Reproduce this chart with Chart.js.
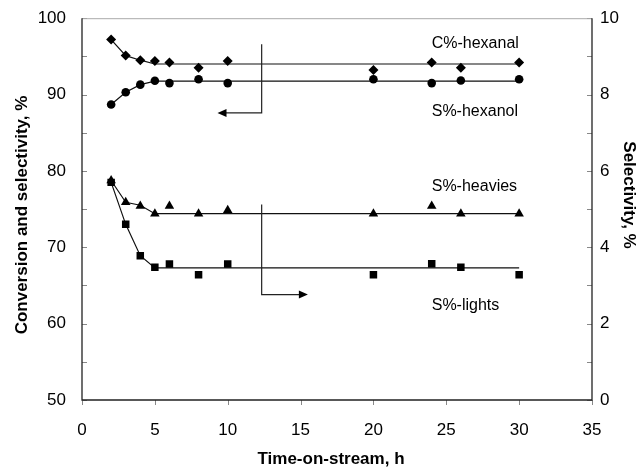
<!DOCTYPE html>
<html>
<head>
<meta charset="utf-8">
<script src="https://cdn.jsdelivr.net/npm/chart.js@4/dist/chart.umd.min.js"></script>
<style>
  html, body { margin: 0; padding: 0; background: #fff; }
  #wrap { width: 637px; height: 468px; }
</style>
</head>
<body>
<div id="wrap"><canvas id="tosChart"></canvas></div>
<script>
// time-on-stream, h
const hours = [2, 3, 4, 5, 6, 8, 10, 20, 24, 26, 30];

// left axis (%)
const convHexanal = [97.2, 95.1, 94.5, 94.4, 94.2, 93.5, 94.4, 93.2, 94.2, 93.5, 94.2];
const selHexanol  = [88.7, 90.3, 91.3, 91.8, 91.5, 92.0, 91.5, 92.0, 91.5, 91.85, 92.0];

// right axis (selectivity, %)
const selHeavies = [5.75, 5.18, 5.08, 4.88, 5.08, 4.88, 4.97, 4.88, 5.08, 4.88, 4.88];
const selLights  = [5.7, 4.6, 3.78, 3.48, 3.56, 3.28, 3.56, 3.28, 3.57, 3.48, 3.28];

// trend lines drawn in the figure
const fitHours      = [2, 3, 4, 5, 30];
const fitHexanal    = [97.2, 95.1, 94.5, 94.0, 94.0];
const fitHexanol    = [88.7, 90.3, 91.3, 91.75, 91.75];
const fitHeavies    = [5.75, 5.18, 5.1, 4.88, 4.88];
const fitLights     = [5.7, 4.6, 3.78, 3.46, 3.46];

// series labels inside the plot: [text, x (h), y (left axis %)]
const seriesLabels = [
  ['C%-hexanal', 24.0, 96.7],
  ['S%-hexanol', 24.0, 87.8],
  ['S%-heavies', 24.0, 77.9],
  ['S%-lights', 24.0, 62.4]
];

// axis-pointing arrows: x of stem, stem top, stem bottom, x of tip (left axis units)
const arrowLeft  = [12.33, 96.6, 87.6, 9.3];
const arrowRight = [12.33, 75.6, 63.8, 15.5];

const FONT = '"Liberation Sans", Arial, sans-serif';

function pts(xs, ys) {
  return xs.map((x, i) => ({ x: x, y: ys[i] }));
}

function markers(label, ys, axis, style, radius) {
  return {
    label: label,
    data: pts(hours, ys),
    yAxisID: axis,
    showLine: false,
    pointStyle: style,
    pointRadius: radius,
    pointHoverRadius: radius,
    pointBackgroundColor: '#000',
    pointBorderColor: '#000',
    pointBorderWidth: 0,
    order: 1
  };
}

function trend(ys, axis) {
  return {
    data: pts(fitHours, ys),
    yAxisID: axis,
    showLine: true,
    borderColor: '#111',
    borderWidth: 1.2,
    pointRadius: 0,
    pointHoverRadius: 0,
    tension: 0,
    order: 2
  };
}

const framePlugin = {
  id: 'frame',
  afterDatasetsDraw(chart) {
    const ctx = chart.ctx;
    const a = chart.chartArea;
    const xs = chart.scales.x, yl = chart.scales.y, yr = chart.scales.y2;
    ctx.save();

    // tick marks (inside on y axes, outside on x)
    ctx.strokeStyle = '#888';
    ctx.lineWidth = 1;
    ctx.beginPath();
    yl.ticks.forEach(t => {
      const p = Math.round(yl.getPixelForValue(t.value)) + 0.5;
      ctx.moveTo(a.left, p); ctx.lineTo(a.left + 5, p);
    });
    yr.ticks.forEach(t => {
      const p = Math.round(yr.getPixelForValue(t.value)) + 0.5;
      ctx.moveTo(a.right, p); ctx.lineTo(a.right - 5, p);
    });
    xs.ticks.forEach(t => {
      const p = Math.round(xs.getPixelForValue(t.value)) + 0.5;
      ctx.moveTo(p, a.bottom); ctx.lineTo(p, a.bottom + 5);
    });
    ctx.stroke();

    // plot box
    ctx.strokeStyle = '#aaa';
    ctx.beginPath();
    ctx.moveTo(a.left, a.top + 0.5); ctx.lineTo(a.right, a.top + 0.5);
    ctx.stroke();
    ctx.strokeStyle = '#222';
    ctx.lineWidth = 1.3;
    ctx.beginPath();
    ctx.moveTo(a.left, a.top); ctx.lineTo(a.left, a.bottom);
    ctx.lineTo(a.right, a.bottom); ctx.lineTo(a.right, a.top);
    ctx.stroke();

    // arrows
    function arrow(def, dir) {
      const sx = xs.getPixelForValue(def[0]);
      const top = yl.getPixelForValue(def[1]);
      const bot = yl.getPixelForValue(def[2]);
      const tip = xs.getPixelForValue(def[3]);
      ctx.strokeStyle = '#222';
      ctx.lineWidth = 1.2;
      ctx.beginPath();
      ctx.moveTo(sx, top); ctx.lineTo(sx, bot); ctx.lineTo(tip - dir * 8, bot);
      ctx.stroke();
      ctx.fillStyle = '#000';
      ctx.beginPath();
      ctx.moveTo(tip, bot);
      ctx.lineTo(tip - dir * 9, bot - 4);
      ctx.lineTo(tip - dir * 9, bot + 4);
      ctx.closePath();
      ctx.fill();
    }
    arrow(arrowLeft, -1);
    arrow(arrowRight, 1);

    // series labels
    ctx.fillStyle = '#000';
    ctx.font = '16px ' + FONT;
    ctx.textAlign = 'left';
    ctx.textBaseline = 'middle';
    seriesLabels.forEach(l => {
      ctx.fillText(l[0], xs.getPixelForValue(l[1]), yl.getPixelForValue(l[2]));
    });

    // axis titles
    ctx.font = 'bold 17px ' + FONT;
    ctx.textAlign = 'center';
    ctx.fillText('Time-on-stream, h', 331, 459);
    ctx.save();
    ctx.translate(22, 215);
    ctx.rotate(-Math.PI / 2);
    ctx.fillText('Conversion and selectivity, %', 0, 0);
    ctx.restore();
    ctx.save();
    ctx.translate(629, 195);
    ctx.rotate(Math.PI / 2);
    ctx.fillText('Selectivity, %', 0, 0);
    ctx.restore();

    ctx.restore();
  }
};

const tickFont = { family: FONT, size: 17 };

new Chart(document.getElementById('tosChart'), {
  type: 'scatter',
  data: {
    datasets: [
      trend(fitHexanal, 'y'),
      trend(fitHexanol, 'y'),
      trend(fitHeavies, 'y2'),
      trend(fitLights, 'y2'),
      markers('C%-hexanal', convHexanal, 'y', 'rectRot', 5),
      markers('S%-hexanol', selHexanol, 'y', 'circle', 4.3),
      markers('S%-heavies', selHeavies, 'y2', 'triangle', 5.5),
      markers('S%-lights', selLights, 'y2', 'rect', 5.3)
    ]
  },
  options: {
    responsive: true,
    maintainAspectRatio: false,
    animation: false,
    layout: { padding: { top: 12, left: 0, right: 0, bottom: 0 } },
    plugins: {
      legend: { display: false },
      tooltip: { enabled: false }
    },
    scales: {
      x: {
        type: 'linear',
        min: 0, max: 35,
        grid: { display: false },
        border: { display: false },
        ticks: { stepSize: 5, color: '#000', font: tickFont, padding: 12, maxRotation: 0 },
        afterFit(s) { s.height = 68; }
      },
      y: {
        position: 'left',
        min: 50, max: 100,
        grid: { display: false },
        border: { display: false },
        ticks: {
          stepSize: 5, color: '#000', font: tickFont, padding: 8,
          callback: v => (v % 10 === 0 ? v : '')
        },
        afterFit(s) { s.width = 82; }
      },
      y2: {
        position: 'right',
        min: 0, max: 10,
        grid: { display: false },
        border: { display: false },
        ticks: {
          stepSize: 1, color: '#000', font: tickFont, padding: 0,
          callback: v => (v % 2 === 0 ? v : '')
        },
        afterFit(s) { s.width = 45; }
      }
    }
  },
  plugins: [framePlugin]
});
</script>
</body>
</html>
